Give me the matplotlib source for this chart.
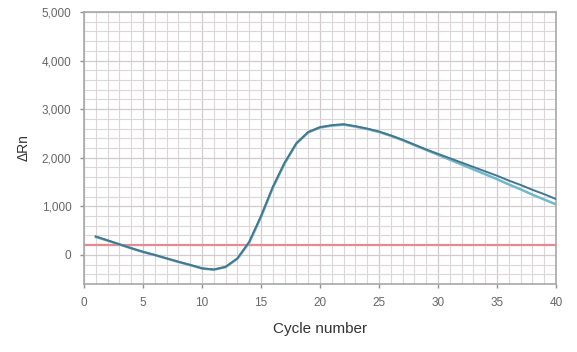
import numpy as np
import matplotlib
matplotlib.use("Agg")
import matplotlib.pyplot as plt
from matplotlib.ticker import MultipleLocator, FuncFormatter

plt.rcParams['font.family'] = ['Liberation Sans', 'DejaVu Sans']

# ======================
# data
# ======================
cycles = list(range(1, 41))

# well A (darker trace)
rn_a = [380, 300, 220, 140, 65, 0, -70, -140, -205, -275,
        -300, -245, -70, 270, 800, 1400, 1900, 2300, 2530, 2630,
        2670, 2690, 2650, 2600, 2540, 2460, 2370, 2270, 2170, 2080,
        1990, 1900, 1810, 1720, 1630, 1530, 1440, 1340, 1250, 1150]

# well B (lighter trace)
rn_b = [370, 295, 215, 135, 60, -5, -75, -145, -210, -280,
        -305, -250, -80, 250, 780, 1380, 1880, 2290, 2520, 2620,
        2660, 2680, 2640, 2590, 2530, 2450, 2360, 2260, 2160, 2060,
        1960, 1860, 1760, 1660, 1560, 1450, 1350, 1240, 1140, 1040]

threshold = 200

x_ticks = [0, 5, 10, 15, 20, 25, 30, 35, 40]
y_ticks = [0, 1000, 2000, 3000, 4000, 5000]

# ======================
# figure
# ======================
fig = plt.figure(figsize=(5.77, 3.52), dpi=100)
ax = fig.add_axes([0.1456, 0.193, 0.818, 0.773])

ax.set_xlim(0, 40)
ax.set_ylim(-600, 5000)

ax.xaxis.set_minor_locator(MultipleLocator(1))
ax.yaxis.set_minor_locator(MultipleLocator(200))
ax.set_xticks(x_ticks)
ax.set_yticks(y_ticks)
ax.yaxis.set_major_formatter(FuncFormatter(lambda v, p: f"{int(v):,}"))

ax.grid(which='minor', color='#ddd6d8', linewidth=0.8)
ax.grid(which='major', color='#d2cbcd', linewidth=0.9)
ax.set_axisbelow(True)

ax.axhline(threshold, color='#e58a92', linewidth=1.6, zorder=2)

ax.plot(cycles, rn_b, color='#6fb9cc', linewidth=1.8, zorder=3)
ax.plot(cycles, rn_a, color='#46768c', linewidth=1.4, zorder=4)

for s in ax.spines.values():
    s.set_color('#a8a8a8')
    s.set_linewidth(1.2)

ax.tick_params(which='major', length=3, width=1, color='#909090',
               labelsize=8.5, labelcolor='#666666', pad=6)
ax.tick_params(which='minor', length=0)

ax.set_xlabel("Cycle number", fontsize=11, color='#333333', labelpad=10)
ax.set_ylabel("ΔRn", fontsize=10, color='#333333', labelpad=8)

fig.savefig("out.png", dpi=100)
